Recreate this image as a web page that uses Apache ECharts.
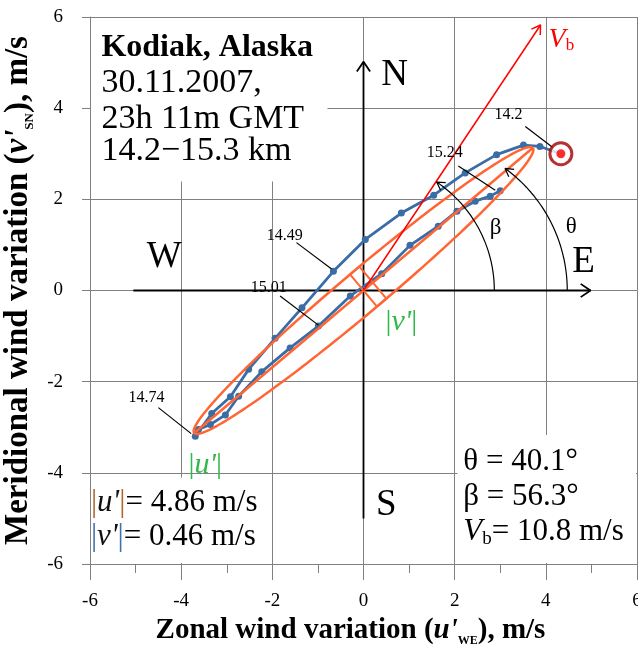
<!DOCTYPE html>
<html>
<head>
<meta charset="utf-8">
<script src="https://cdn.jsdelivr.net/npm/echarts@6/dist/echarts.min.js"></script>
<style>
html, body { margin: 0; padding: 0; background: #fff; }
#main { width: 638px; height: 648px; }
</style>
</head>
<body>
<div id="main"></div>
<script>
// hodograph points, 14.2 km -> 14.74 km (upper branch) -> 15.3 km (lower branch), m/s
var upperU = [4.33, 3.87, 3.51, 2.92, 2.23, 1.54, 0.83, 0.04, -0.66, -1.35, -1.94, -2.52, -2.92, -3.33, -3.69];
var upperV = [3.00, 3.16, 3.19, 2.98, 2.58, 2.09, 1.70, 1.12, 0.42, -0.38, -1.05, -1.73, -2.33, -2.70, -3.20];
var lowerU = [-3.62, -3.36, -3.03, -2.74, -2.23, -1.61, -0.99, -0.29, 0.40, 1.02, 1.64, 2.05, 2.45, 2.78, 3.00];
var lowerV = [-3.05, -2.94, -2.73, -2.32, -1.78, -1.26, -0.78, -0.12, 0.37, 0.99, 1.41, 1.74, 1.96, 2.07, 2.19];

// fitted ellipse parameters
var uAmp = 4.86;      // |u'|
var vAmp = 0.46;      // |v'|
var thetaDeg = 40.1;
var betaDeg = 56.3;
var vbSpeed = 10.8;

// height labels and the point each one points at
var heightNames = ['14.2', '15.24', '14.49', '15.01', '14.74'];
var heightAt = [[4.33, 3.00], [2.92, 2.19], [-0.66, 0.42], [-0.99, -0.78], [-3.69, -3.20]];

var SERIF = 'Liberation Serif';
var blue = '#3a6da6', orange = '#ff6633', red = '#ff0000';
var d2r = Math.PI / 180;

var chart = echarts.init(document.getElementById('main'));

var hodo = [];
upperU.forEach(function (u, i) { hodo.push([u, upperV[i]]); });
lowerU.forEach(function (u, i) { hodo.push([u, lowerV[i]]); });

// ellipse from |u'|, |v'|, theta
var cT = Math.cos(thetaDeg * d2r), sT = Math.sin(thetaDeg * d2r);
var ellipse = [];
for (var k = 0; k <= 180; k++) {
    var t = k / 180 * 2 * Math.PI;
    ellipse.push([uAmp * cT * Math.cos(t) - vAmp * sT * Math.sin(t),
                  uAmp * sT * Math.cos(t) + vAmp * cT * Math.sin(t)]);
}
var majorAxis = [[-uAmp * cT, -uAmp * sT], [uAmp * cT, uAmp * sT]];
var nU = -sT * vAmp, nV = cT * vAmp;
var boxW = 0.27;
var minorBox = [[nU, nV], [-nU, -nV], [-nU + boxW * cT, -nV + boxW * sT], [nU + boxW * cT, nV + boxW * sT], [nU, nV]];

// Vb direction arrow (drawn length, not to scale)
var vbLen = 7.0;
var vbTip = [vbLen * Math.cos(betaDeg * d2r), vbLen * Math.sin(betaDeg * d2r)];

// angle arcs
function arc(cu, r, a1) {
    var pts = [];
    for (var a = 0; a <= a1 + 0.01; a += a1 / 40) pts.push([cu + r * Math.cos(a * d2r), r * Math.sin(a * d2r)]);
    return pts;
}
var betaArcEnd = 56;
var betaArc = arc(0, 2.87, betaArcEnd);
var thetaArcEnd = 54;
var thetaArc = arc(1.16, 3.31, thetaArcEnd);

function chevron(tip, dirDeg, len, spread) {
    var a1 = (dirDeg + 180 - spread) * d2r, a2 = (dirDeg + 180 + spread) * d2r;
    return [[tip[0] + len * Math.cos(a1), tip[1] + len * Math.sin(a1)], tip,
            [tip[0] + len * Math.cos(a2), tip[1] + len * Math.sin(a2)]];
}

function seg(pts, color, width, z) {
    return {
        type: 'line', data: pts, symbol: 'none', showSymbol: false, silent: true,
        lineStyle: { color: color, width: width }, itemStyle: { color: color }, z: z || 5
    };
}

// leader lines from the labels
var leaders = [
    [[3.55, 3.60], [4.16, 3.13]],
    [[2.08, 2.73], [2.89, 2.20]],
    [[-1.47, 1.05], [-0.70, 0.47]],
    [[-1.83, -0.12], [-0.99, -0.76]],
    [[-4.50, -2.57], [-3.78, -3.14]]
];

var series = [
    seg([[0, -5.0], [0, 5.02]], '#000', 1.8, 3),
    seg(chevron([0, 5.02], 90, 0.26, 34), '#000', 1.8, 3),
    seg([[-5.05, 0], [4.98, 0]], '#000', 1.8, 3),
    seg(chevron([4.98, 0], 0, 0.26, 34), '#000', 1.8, 3),
    {
        type: 'line', data: hodo, symbol: 'circle', symbolSize: 7, showSymbol: true, silent: true,
        lineStyle: { color: blue, width: 2.8 }, itemStyle: { color: blue }, z: 4
    },
    seg(ellipse, orange, 2.5, 5),
    seg(majorAxis, orange, 2.5, 5),
    seg(minorBox, orange, 2, 5),
    seg([[0, 0], vbTip], red, 1.5, 6),
    seg(chevron(vbTip, betaDeg, 0.22, 32), red, 1.5, 6),
    seg(betaArc, '#000', 1.2, 6),
    seg(chevron(betaArc[betaArc.length - 1], betaArcEnd + 90, 0.2, 30), '#000', 1.2, 6),
    seg(thetaArc, '#000', 1.2, 6),
    seg(chevron(thetaArc[thetaArc.length - 1], thetaArcEnd + 90, 0.2, 30), '#000', 1.2, 6),
    {
        type: 'scatter', data: [heightAt[0]], symbol: 'circle', symbolSize: 22, silent: true, z: 7,
        itemStyle: { color: '#fff', borderColor: '#a00000', borderWidth: 3 }
    },
    {
        type: 'scatter', data: [heightAt[0]], symbol: 'circle', symbolSize: 9, silent: true, z: 8,
        itemStyle: { color: red }
    }
];
leaders.forEach(function (l) { series.push(seg(l, '#000', 1.2, 6)); });

var axisGrey = '#808080';
function nameRich(size) {
    return {
        b: { fontFamily: SERIF, fontWeight: 'bold', fontSize: size, color: '#000', lineHeight: size + 3 },
        i: { fontFamily: SERIF, fontWeight: 'bold', fontStyle: 'italic', fontSize: size, color: '#000', lineHeight: size + 3 },
        s: { fontFamily: SERIF, fontWeight: 'bold', fontSize: Math.round(size * 0.4), color: '#000', lineHeight: size + 3, verticalAlign: 'bottom' }
    };
}

chart.setOption({
    animation: false,
    grid: { left: 90, right: 1, top: 17, bottom: 84, containLabel: false, outerBoundsMode: 'none' },
    xAxis: {
        type: 'value', min: -6, max: 6, interval: 2,
        axisLine: { onZero: false, lineStyle: { color: axisGrey, width: 1 } },
        axisTick: { length: 16, lineStyle: { color: axisGrey } },
        minorTick: { show: true, splitNumber: 2, length: 9, lineStyle: { color: axisGrey } },
        splitLine: { show: true, lineStyle: { color: axisGrey, width: 1 } },
        axisLabel: { fontFamily: SERIF, fontSize: 19, color: '#000', margin: 28, showMaxLabel: true, showMinLabel: true },
        name: '{b|Zonal wind variation (}{i|u\'}{s|WE}{b|), m/s}',
        nameLocation: 'middle', nameGap: 51,
        nameTextStyle: { rich: nameRich(29), padding: [0, 26, 0, 0] }
    },
    yAxis: {
        type: 'value', min: -6, max: 6, interval: 2,
        axisLine: { onZero: false, lineStyle: { color: axisGrey, width: 1 } },
        axisTick: { length: 8, lineStyle: { color: axisGrey } },
        splitLine: { show: true, lineStyle: { color: axisGrey, width: 1 } },
        axisLabel: { fontFamily: SERIF, fontSize: 19, color: '#000', margin: 27 },
        name: '{b|Meridional wind variation (}{i|v\'}{s|SN}{b|), m/s}',
        nameLocation: 'middle', nameGap: 45,
        nameTextStyle: { rich: nameRich(33) }
    },
    series: series
});

function P(u, v) { return chart.convertToPixel({ gridIndex: 0 }, [u, v]); }

var graphics = [];
function box(u0, v0, u1, v1) {
    var a = P(u0, v0), b = P(u1, v1);
    graphics.push({
        type: 'rect', z: 1, silent: true,
        shape: { x: a[0] + 1, y: b[1] + 1, width: b[0] - a[0] - 2, height: a[1] - b[1] - 2 },
        style: { fill: '#fff' }
    });
}
function text(u, v, str, st) {
    var p = P(u, v);
    var s = { text: str, fill: '#000', fontFamily: SERIF, fontSize: 31, align: 'left', verticalAlign: 'middle' };
    for (var key in st) s[key] = st[key];
    s.textAlign = s.align; s.textVerticalAlign = s.verticalAlign;
    graphics.push({ type: 'text', x: p[0], y: p[1], z: 20, silent: true, style: s });
}

// white text boxes hiding the grid
box(-6, 2.37, -0.77, 6);
box(-6, -6, -2.12, -4.08);
box(2.04, -6, 6, -3.15);

// title block
text(-5.75, 5.33, 'Kodiak, Alaska', { fontWeight: 'bold', fontSize: 32 });
text(-5.75, 4.54, '30.11.2007,', { fontSize: 34 });
text(-5.75, 3.77, '23h 11m GMT', { fontSize: 34 });
text(-5.75, 3.05, '14.2\u221215.3 km', { fontSize: 34 });

// compass letters
text(0.68, 4.72, 'N', { fontSize: 37, align: 'center' });
text(0.50, -4.72, 'S', { fontSize: 37, align: 'center' });
text(-4.37, 0.72, 'W', { fontSize: 37, align: 'center' });
text(4.83, 0.61, 'E', { fontSize: 37, align: 'center' });

// height labels
var labelPos = [[3.18, 3.86], [1.78, 3.01], [-1.73, 1.21], [-2.08, 0.07], [-4.76, -2.35]];
heightNames.forEach(function (h, i) {
    text(labelPos[i][0], labelPos[i][1], h, { fontSize: 16, align: 'center' });
});

// angle labels
text(2.90, 1.38, '\u03b2', { fontSize: 23, align: 'center' });
text(4.56, 1.40, '\u03b8', { fontSize: 23, align: 'center' });

var vbRich = {
    v: { fontFamily: SERIF, fontStyle: 'italic', fontSize: 28, fill: red, lineHeight: 30 },
    s: { fontFamily: SERIF, fontSize: 17, fill: red, lineHeight: 30, verticalAlign: 'bottom' }
};
text(4.06, 5.51, '{v|V}{s|b}', { rich: vbRich });

var green = '#2fb84a';
var greenRich = {
    g: { fontFamily: SERIF, fontSize: 30, fill: green },
    gi: { fontFamily: SERIF, fontSize: 30, fill: green, fontStyle: 'italic' }
};
text(-3.47, -3.82, '{g||}{gi|u\'}{g||}', { align: 'center', rich: greenRich });
text(0.83, -0.70, '{g||}{gi|v\'}{g||}', { align: 'center', rich: greenRich });

var ampRich = {
    bu: { fontFamily: SERIF, fontSize: 31, fill: '#b0672a' },
    bv: { fontFamily: SERIF, fontSize: 31, fill: '#3f72ad' },
    i: { fontFamily: SERIF, fontSize: 31, fill: '#111', fontStyle: 'italic' },
    n: { fontFamily: SERIF, fontSize: 31, fill: '#000' }
};
text(-5.98, -4.65, '{bu||}{i|u\'}{bu||}{n|= ' + uAmp.toFixed(2) + ' m/s}', { rich: ampRich });
text(-5.98, -5.40, '{bv||}{i|v\'}{bv||}{n|= ' + vAmp.toFixed(2) + ' m/s}', { rich: ampRich });

var resRich = {
    n: { fontFamily: SERIF, fontSize: 31, fill: '#000', lineHeight: 34 },
    v: { fontFamily: SERIF, fontSize: 31, fill: '#000', fontStyle: 'italic', lineHeight: 34 },
    s: { fontFamily: SERIF, fontSize: 19, fill: '#000', lineHeight: 34, verticalAlign: 'bottom' }
};
text(2.19, -3.75, '{n|\u03b8 = ' + thetaDeg.toFixed(1) + '\u00b0}', { rich: resRich });
text(2.19, -4.52, '{n|\u03b2 = ' + betaDeg.toFixed(1) + '\u00b0}', { rich: resRich });
text(2.19, -5.29, '{v|V}{s|b}{n|= ' + vbSpeed.toFixed(1) + ' m/s}', { rich: resRich });

chart.setOption({ graphic: { elements: graphics } });
</script>
</body>
</html>
